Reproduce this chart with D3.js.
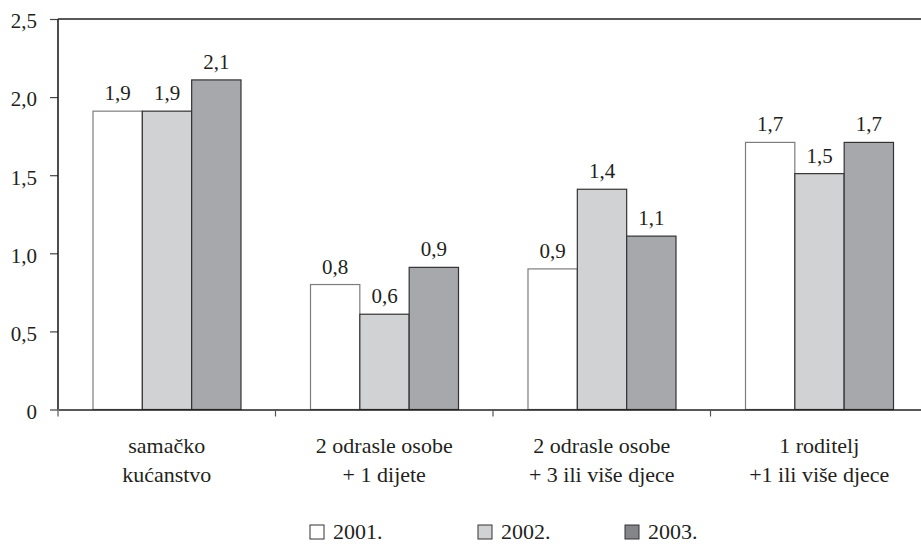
<!DOCTYPE html>
<html>
<head>
<meta charset="utf-8">
<script src="https://cdn.jsdelivr.net/npm/d3@7"></script>
<style>
  body { margin: 0; background: #fff; }
  svg text { font-family: "Liberation Serif", "Times New Roman", Times, "DejaVu Serif", serif; fill: #231f20; }
</style>
</head>
<body>
<svg width="921" height="544"></svg>
<script>
var categories = [["samačko", "kućanstvo"], ["2 odrasle osobe", "+ 1 dijete"], ["2 odrasle osobe", "+ 3 ili više djece"], ["1 roditelj", "+1 ili više djece"]];
var years = ["2001.", "2002.", "2003."];
var v2001 = [1.91, 0.80, 0.90, 1.71];
var v2002 = [1.91, 0.61, 1.41, 1.51];
var v2003 = [2.11, 0.91, 1.11, 1.71];
var yTicks = [0, 0.5, 1.0, 1.5, 2.0, 2.5];

var fills = ["#ffffff", "#d1d2d4", "#a7a8ab"];
var legendFills = ["#ffffff", "#d1d2d4", "#848589"];
var strokes = ["#7d7d7d", "#333333", "#333333"];

var series = [v2001, v2002, v2003];
var FONT = "'Liberation Serif', 'Times New Roman', Times, 'DejaVu Serif', serif";

var svg = d3.select("svg"),
    margin = {top: 19, left: 58, bottom: 409.5},
    plotRight = 928;

var x0 = d3.scaleBand().domain(d3.range(categories.length)).range([margin.left, plotRight]);
var x1 = d3.scaleBand().domain(d3.range(years.length)).range([35, 183]);
var y = d3.scaleLinear().domain([0, 2.5]).range([margin.bottom, margin.top]);

var comma = function(d) { return d3.format(".1f")(d).replace(".", ","); };

// y axis
var yAxis = svg.append("g")
    .attr("transform", "translate(" + margin.left + ",0)")
    .call(d3.axisLeft(y).tickValues(yTicks).tickSize(8).tickPadding(13)
      .tickFormat(function(d) { return d === 0 ? "0" : comma(d); }));
yAxis.attr("font-family", FONT).attr("font-size", 21);
yAxis.select(".domain").remove();
yAxis.selectAll("line").attr("stroke", "#444").attr("stroke-width", 1.2);
yAxis.selectAll("text").attr("dy", "0.42em").attr("fill", "#231f20");

// bars
var g = svg.append("g").attr("font-family", FONT);
series.forEach(function(vals, s) {
  g.selectAll(".bar" + s)
    .data(vals)
    .enter().append("rect")
      .attr("x", function(d, i) { return x0(i) + x1(s); })
      .attr("y", function(d) { return y(d); })
      .attr("width", x1.bandwidth())
      .attr("height", function(d) { return y(0) - y(d); })
      .attr("fill", fills[s])
      .attr("stroke", strokes[s])
      .attr("stroke-width", 1.2);

  g.selectAll(".lbl" + s)
    .data(vals)
    .enter().append("text")
      .attr("x", function(d, i) { return x0(i) + x1(s) + x1.bandwidth() / 2; })
      .attr("y", function(d) { return y(d) - 11; })
      .attr("text-anchor", "middle")
      .attr("font-size", 21)
      .text(comma);
});

// frame: left, top, baseline
svg.append("line").attr("x1", margin.left).attr("x2", margin.left)
  .attr("y1", y(2.5)).attr("y2", y(0)).attr("stroke", "#231f20").attr("stroke-width", 1.6);
svg.append("line").attr("x1", margin.left).attr("x2", 921)
  .attr("y1", y(2.5)).attr("y2", y(2.5)).attr("stroke", "#231f20").attr("stroke-width", 1.6);

var xAxis = svg.append("g")
    .attr("transform", "translate(0," + y(0) + ")")
    .call(d3.axisBottom(x0).tickSize(0).tickFormat(""));
xAxis.select(".domain").attr("stroke", "#231f20").attr("stroke-width", 1.6);
xAxis.selectAll(".tick").remove();

// category separators
svg.selectAll(".sep")
  .data(d3.range(categories.length + 1))
  .enter().append("line")
    .attr("x1", function(i) { return margin.left + i * x0.step(); })
    .attr("x2", function(i) { return margin.left + i * x0.step(); })
    .attr("y1", y(0)).attr("y2", y(0) + 7)
    .attr("stroke", "#555").attr("stroke-width", 1.2);

// category labels
var cat = svg.append("g").attr("font-family", FONT).selectAll(".cat")
  .data(categories)
  .enter().append("text")
    .attr("text-anchor", "middle")
    .attr("font-size", 22)
    .attr("x", function(d, i) { return x0(i) + x0.bandwidth() / 2; })
    .attr("y", 453);
cat.selectAll("tspan")
  .data(function(d) { return d; })
  .enter().append("tspan")
    .attr("x", function() { return d3.select(this.parentNode).attr("x"); })
    .attr("dy", function(d, i) { return i === 0 ? 0 : 29; })
    .text(function(d) { return d; });

// legend
var legendX = [310, 478, 625];
var leg = svg.append("g").attr("font-family", FONT).selectAll(".leg")
  .data(years)
  .enter().append("g")
    .attr("transform", function(d, i) { return "translate(" + legendX[i] + ",525)"; });
leg.append("rect")
  .attr("width", 14).attr("height", 14)
  .attr("fill", function(d, i) { return legendFills[i]; })
  .attr("stroke", "#333").attr("stroke-width", 1);
leg.append("text")
  .attr("x", 23).attr("y", 14)
  .attr("font-size", 22)
  .text(function(d) { return d; });
</script>
</body>
</html>
